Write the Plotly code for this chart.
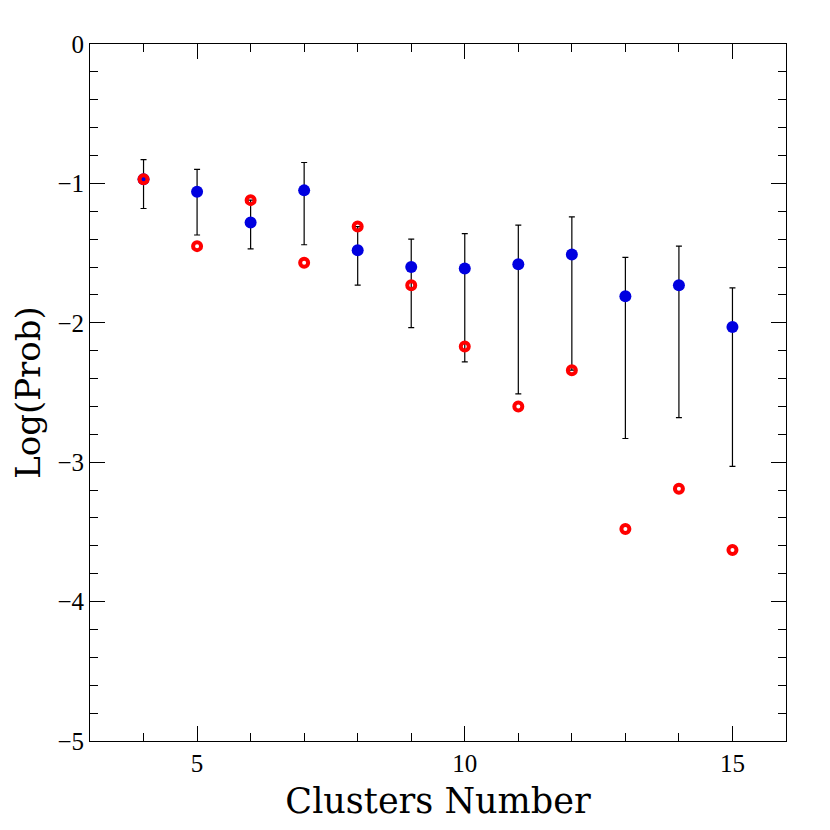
import plotly.graph_objects as go

clusters = [4, 5, 6, 7, 8, 9, 10, 11, 12, 13, 14, 15]
blue_vals = [-0.97, -1.06, -1.28, -1.05, -1.48, -1.60, -1.61, -1.58, -1.51, -1.81, -1.73, -2.03]
err_top = [-0.83, -0.90, -1.12, -0.85, -1.31, -1.40, -1.36, -1.30, -1.24, -1.53, -1.45, -1.75]
err_bot = [-1.18, -1.37, -1.47, -1.44, -1.73, -2.035, -2.28, -2.51, -2.34, -2.83, -2.68, -3.03]
red_vals = [-0.97, -1.45, -1.12, -1.57, -1.31, -1.73, -2.17, -2.60, -2.34, -3.48, -3.19, -3.63]

x_tickvals = [5, 10, 15]
x_ticktext = ["5", "10", "15"]
y_tickvals = [0, -1, -2, -3, -4, -5]
y_ticktext = ["0", "\u22121", "\u22122", "\u22123", "\u22124", "\u22125"]

err_plus = [t - v for t, v in zip(err_top, blue_vals)]
err_minus = [v - b for v, b in zip(blue_vals, err_bot)]

tick_font = "Liberation Serif"
title_font = "DejaVu Serif"

fig = go.Figure()
fig.add_trace(go.Scatter(
    x=clusters, y=blue_vals, mode="markers",
    marker=dict(color="#0000e0", size=12, line=dict(width=0)),
    error_y=dict(type="data", symmetric=False, array=err_plus, arrayminus=err_minus,
                 color="black", thickness=1.2, width=3),
    showlegend=False,
))
fig.add_trace(go.Scatter(
    x=clusters, y=red_vals, mode="markers",
    marker=dict(symbol="circle-open", color="red", size=8, line=dict(width=4, color="red")),
    showlegend=False,
))

fig.update_layout(
    width=830, height=830,
    margin=dict(l=82, r=52, t=36, b=97),
    plot_bgcolor="white", paper_bgcolor="white",
    font=dict(family=tick_font, color="black"),
)
fig.update_xaxes(
    range=[3, 16], showgrid=False, zeroline=False,
    showline=True, linecolor="black", linewidth=1, mirror="allticks",
    ticks="inside", ticklen=15, tickwidth=1, tickcolor="black",
    tickmode="array", tickvals=x_tickvals, ticktext=x_ticktext,
    tickfont=dict(size=25, family=tick_font),
    minor=dict(ticks="inside", ticklen=8, tickcolor="black", tickwidth=1, dtick=1, tick0=0, showgrid=False),
    title=dict(text="Clusters Number", font=dict(size=35, family=title_font), standoff=12),
)
fig.update_yaxes(
    range=[-5, 0], showgrid=False, zeroline=False,
    showline=True, linecolor="black", linewidth=1, mirror="allticks",
    ticks="inside", ticklen=15, tickwidth=1, tickcolor="black",
    tickmode="array", tickvals=y_tickvals, ticktext=y_ticktext,
    tickfont=dict(size=25, family=tick_font),
    minor=dict(ticks="inside", ticklen=8, tickcolor="black", tickwidth=1, dtick=0.2, tick0=0, showgrid=False),
    title=dict(text="Log(Prob)", font=dict(size=34, family=title_font), standoff=8),
)

fig.write_html("out.html")
